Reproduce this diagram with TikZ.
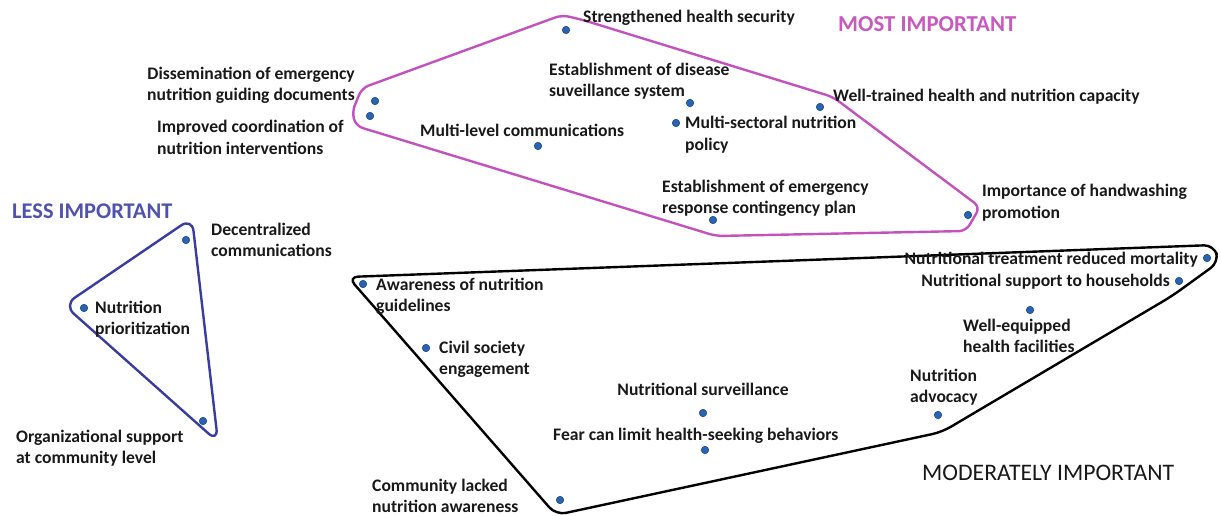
\documentclass[tikz,border=0pt]{standalone}
\usepackage{fontspec}
\setmainfont{Carlito}
\definecolor{pinkline}{RGB}{196,82,190}
\definecolor{pinktext}{RGB}{200,90,190}
\definecolor{blueline}{RGB}{58,60,160}
\definecolor{bluetext}{RGB}{80,82,175}
\definecolor{dotfill}{RGB}{40,100,180}
\definecolor{dotdraw}{RGB}{25,60,120}
\definecolor{txt}{RGB}{25,25,25}
\tikzset{
  dot/.style={circle,fill=dotfill,draw=dotdraw,line width=0.5pt,inner sep=0pt,minimum size=7.5pt},
  lbl/.style={font=\bfseries\fontsize{17.6}{21}\selectfont,text=txt,inner sep=0pt,align=left},
  lblr/.style={lbl,align=right},
  title/.style={font=\bfseries\fontsize{22.8}{26}\selectfont,inner sep=0pt},
  hull/.style={line width=2.4pt,line join=round,rounded corners=7pt}
}
\begin{document}
\begin{tikzpicture}[x=1pt,y=-1pt]
\useasboundingbox (0,0) rectangle (1221,516);
\fill[white] (0,0) rectangle (1221,516);

% hulls
\draw[hull,pinkline] (362,88) -- (562,15) -- (583,20) -- (833,97) -- (980,207) -- (966,231) -- (716,236) -- (356,126) -- (352,112) -- cycle;
\draw[hull,blueline,rounded corners=13pt] (192,218) -- (218,442) -- (64,305) -- cycle;
\draw[hull,black,rounded corners=10pt] (348,277) -- (1214,245) -- (1219,262) -- (1172,296) -- (942,432) -- (556,515) -- cycle;

% titles
\node[title,text=pinktext,anchor=base west] (tmost) at (838,32) {MOST IMPORTANT};
\node[title,text=bluetext,anchor=base west,font=\fontsize{22.4}{26}\selectfont\bfseries] (tless) at (12,218) {LESS IMPORTANT};
\node[title,text=txt,anchor=base west,font=\fontsize{23.7}{27}\selectfont] (tmod) at (922,480) {MODERATELY IMPORTANT};

% most important
\node[dot] (d1) at (566,30) {};
\node[lbl,anchor=base west] (t1) at (583,23) {Strengthened health security};
\node[dot] (d2) at (375,101) {};
\node[lblr,anchor=base east] (t2) at (355,101) {Dissemination of emergency\\nutrition guiding documents};
\node[dot] (d3) at (370,116) {};
\node[lbl,anchor=base west] (t3) at (157,154) {Improved coordination of\\nutrition interventions};
\node[dot] (d4) at (690,103) {};
\node[lbl,anchor=base west] (t4) at (549,97) {Establishment of disease\\suveillance system};
\node[dot] (d5) at (676,123) {};
\node[lbl,anchor=base west] (t5) at (685,150) {Multi-sectoral nutrition\\policy};
\node[dot] (d6) at (820,107) {};
\node[lbl,anchor=base west] (t6) at (833,102) {Well-trained health and nutrition capacity};
\node[dot] (d7) at (538,146) {};
\node[lbl,anchor=base west] (t7) at (420,137) {Multi-level communications};
\node[dot] (d8) at (713,220) {};
\node[lbl,anchor=base west] (t8) at (662,213) {Establishment of emergency\\response contingency plan};
\node[dot] (d9) at (968,215) {};
\node[lbl,anchor=base west] (t9) at (982,218) {Importance of handwashing\\promotion};

% less important
\node[dot] (e1) at (186,240) {};
\node[lbl,anchor=base west] (s1) at (211,256) {Decentralized\\communications};
\node[dot] (e2) at (84,308) {};
\node[lbl,anchor=base west] (s2) at (95,334) {Nutrition\\prioritization};
\node[dot] (e3) at (203,421) {};
\node[lbl,anchor=base west] (s3) at (16,463) {Organizational support\\at community level};

% moderately important
\node[dot] (m1) at (363,284) {};
\node[lbl,anchor=base west] (u1) at (376,311) {Awareness of nutrition\\guidelines};
\node[dot] (m2) at (426,348) {};
\node[lbl,anchor=base west] (u2) at (439,374) {Civil society\\engagement};
\node[dot] (m3) at (703,413) {};
\node[lbl,anchor=base] (u3) at (703,395) {Nutritional surveillance};
\node[dot] (m4) at (705,450) {};
\node[lbl,anchor=base west] (u4) at (553,440) {Fear can limit health-seeking behaviors};
\node[dot] (m5) at (560,500) {};
\node[lbl,anchor=base west] (u5) at (372,512) {Community lacked\\nutrition awareness};
\node[dot] (m6) at (1207,258) {};
\node[lbl,anchor=base east] (u6) at (1198,264) {Nutritional treatment reduced mortality};
\node[dot] (m7) at (1179,281) {};
\node[lbl,anchor=base east] (u7) at (1170,286) {Nutritional support to households};
\node[dot] (m8) at (1030,310) {};
\node[lbl,anchor=base west] (u8) at (963,352) {Well-equipped\\health facilities};
\node[dot] (m9) at (938,415) {};
\node[lbl,anchor=base west] (u9) at (910,402) {Nutrition\\advocacy};
\end{tikzpicture}
\end{document}
